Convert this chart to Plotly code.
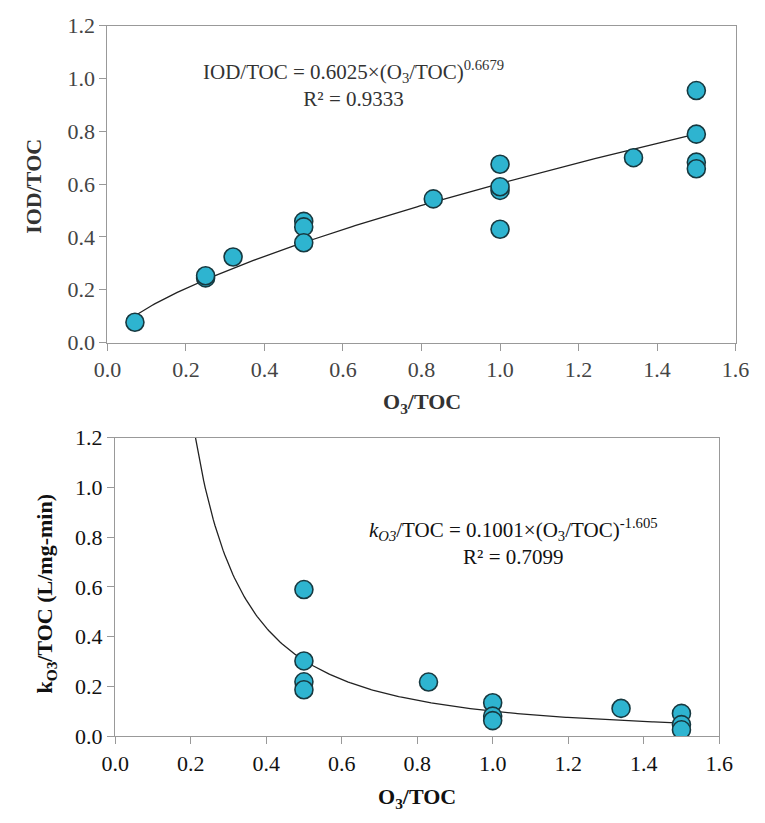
import numpy as np
import plotly.graph_objects as go

# Ozone dose normalised to TOC and the measured responses
o3_toc_iod = [0.07, 0.25, 0.25, 0.32, 0.50, 0.50, 0.50, 0.83, 1.00, 1.00, 1.00, 1.00,
              1.34, 1.50, 1.50, 1.50, 1.50]
iod_toc = [0.077, 0.245, 0.253, 0.324, 0.459, 0.438, 0.378, 0.544, 0.429, 0.576, 0.590, 0.675,
           0.700, 0.954, 0.789, 0.683, 0.658]

o3_toc_k = [0.50, 0.50, 0.50, 0.50, 0.83, 1.00, 1.00, 1.00, 1.34, 1.50, 1.50, 1.50]
k_toc = [0.589, 0.302, 0.218, 0.186, 0.217, 0.134, 0.080, 0.062, 0.111, 0.091, 0.046, 0.025]

# Power-law fits
iod_a, iod_b = 0.6025, 0.6679
k_a, k_b = 0.1001, -1.605

tick_vals_x = [0.0, 0.2, 0.4, 0.6, 0.8, 1.0, 1.2, 1.4, 1.6]
tick_vals_y = [0.0, 0.2, 0.4, 0.6, 0.8, 1.0, 1.2]

W, H = 765, 823
SERIF = "Liberation Serif"
MARK = dict(size=18, color="#2eb4d0", line=dict(color="#173940", width=1.6))

fig = go.Figure()

x_fit1 = np.linspace(min(o3_toc_iod), max(o3_toc_iod), 200)
fig.add_trace(go.Scatter(x=x_fit1, y=iod_a * x_fit1 ** iod_b, mode="lines",
                         line=dict(color="#222", width=1.3), xaxis="x", yaxis="y",
                         showlegend=False, hoverinfo="skip"))
fig.add_trace(go.Scatter(x=o3_toc_iod, y=iod_toc, mode="markers", marker=MARK,
                         xaxis="x", yaxis="y", showlegend=False))

x_start = (1.2 / k_a) ** (1 / k_b)
x_fit2 = np.linspace(x_start, max(o3_toc_k), 300)
fig.add_trace(go.Scatter(x=x_fit2, y=k_a * x_fit2 ** k_b, mode="lines",
                         line=dict(color="#222", width=1.3), xaxis="x2", yaxis="y2",
                         showlegend=False, hoverinfo="skip"))
fig.add_trace(go.Scatter(x=o3_toc_k, y=k_toc, mode="markers", marker=MARK,
                         xaxis="x2", yaxis="y2", showlegend=False))


def px_x(p):
    return p / W


def px_y(p):
    return 1 - p / H


def axis(domain, anchor, vals, rng, color, suffix=""):
    return dict(domain=domain, anchor=anchor, range=rng, tickvals=vals,
                tickformat=".1f", ticks="outside", ticklen=7, tickcolor="#999",
                showline=True, linecolor="#999", linewidth=1.3, mirror=True,
                showgrid=False, zeroline=False, ticksuffix=suffix,
                tickfont=dict(family=SERIF, size=22, color=color))


NB = "\u00a0"
fig.update_layout(
    width=W, height=H, margin=dict(l=0, r=0, t=0, b=0),
    paper_bgcolor="white", plot_bgcolor="white",
    xaxis=axis([px_x(97), px_x(749)], "y", tick_vals_x, [0, 1.6], "#444"),
    yaxis=axis([px_y(341), px_y(14)], "x", tick_vals_y, [0, 1.2], "#444", NB),
    xaxis2=axis([px_x(105), px_x(732)], "y2", tick_vals_x, [0, 1.6], "#111"),
    yaxis2=axis([px_y(746.7), px_y(439)], "x2", tick_vals_y, [0, 1.2], "#111", NB),
)


def label(text, x, y, size, color, angle=0):
    return dict(text=text, xref="paper", yref="paper", x=px_x(x), y=px_y(y),
                xanchor="center", yanchor="middle", showarrow=False, textangle=angle,
                font=dict(family=SERIF, size=size, color=color))


ann = [
    dict(text="IOD/TOC = 0.6025×(O<sub>3</sub>/TOC)<sup>0.6679</sup><br>R² = 0.9333",
         xref="x", yref="y", x=0.628, y=0.98, xanchor="center", yanchor="middle",
         showarrow=False, align="center",
         font=dict(family=SERIF, size=21, color="#333")),
    dict(text="<i>k<sub>O3</sub></i>/TOC = 0.1001×(O<sub>3</sub>/TOC)<sup>-1.605</sup><br>R² = 0.7099",
         xref="x2", yref="y2", x=1.056, y=0.78, xanchor="center", yanchor="middle",
         showarrow=False, align="center",
         font=dict(family=SERIF, size=21, color="#111")),
    label("<b>O<sub>3</sub>/TOC</b>", 423, 403, 22, "#333"),
    label("<b>IOD/TOC</b>", 20, 180, 22, "#333", angle=-90),
    label("<b>O<sub>3</sub>/TOC</b>", 418, 811, 22, "#111"),
    label("<b>k<sub>O3</sub>/TOC (L/mg-min)</b>", 33, 600, 22, "#111", angle=-90),
]
fig.update_layout(annotations=ann)

fig.write_html("out.html")
